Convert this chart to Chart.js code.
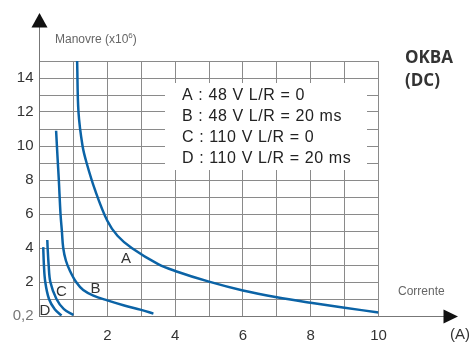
<!DOCTYPE html>
<html>
<head>
<meta charset="utf-8">
<script src="https://cdn.jsdelivr.net/npm/chart.js@4"></script>
<style>
  html, body { margin: 0; padding: 0; background: #fff; }
  #wrap { width: 473px; height: 344px; position: relative; }
</style>
</head>
<body>
<div id="wrap"><canvas id="chart"></canvas></div>
<script>
// current (A) and operations (x10^6)
const aCurrent = [1.11, 1.15, 1.27, 1.39, 1.64, 2.0, 2.3, 2.72, 3.5, 4.0, 5.0, 6.0, 7.0, 8.0, 9.0, 10.0];
const aOps     = [15, 12, 10, 9, 7.4, 5.6, 4.72, 4, 3.05, 2.65, 2.02, 1.5, 1.1, 0.78, 0.49, 0.2];

const bCurrent = [0.49, 0.53, 0.57, 0.62, 0.66, 0.70, 0.78, 0.9, 1.08, 1.29, 1.59, 2.0, 2.5, 3.0, 3.36];
const bOps     = [10.9, 9.4, 8, 6, 5, 4, 3.25, 2.65, 2, 1.53, 1.2, 0.92, 0.62, 0.36, 0.14];

const cCurrent = [0.23, 0.24, 0.27, 0.32, 0.5, 0.72, 1.0];
const cOps     = [4.47, 4, 3, 2, 1, 0.4, 0.06];

const dCurrent = [0.11, 0.13, 0.17, 0.28, 0.45, 0.65];
const dOps     = [4.05, 3, 2, 1, 0.4, 0.03];

const legendLines = ['A : 48 V L/R = 0', 'B : 48 V L/R = 20 ms', 'C : 110 V L/R = 0', 'D : 110 V L/R = 20 ms'];
const curveNames = ['A', 'B', 'C', 'D'];
// where each curve letter sits, in data units
const nameX = [2.55, 1.65, 0.65, 0.16];
const nameY = [3.35, 1.6, 1.4, 0.3];

const xTicks = [2, 4, 6, 8, 10];
const yTicks = [0, 2, 4, 6, 8, 10, 12, 14];

const blue = '#0b63a6';
const font = '"Liberation Sans", Arial, sans-serif';

function pts(xs, ys) {
  return xs.map((x, i) => ({ x: x, y: ys[i] }));
}

function curve(xs, ys) {
  return {
    data: pts(xs, ys),
    borderColor: blue,
    borderWidth: 2.5,
    pointRadius: 0,
    fill: false,
    tension: 0.35
  };
}

const decor = {
  id: 'decor',
  beforeDatasetsDraw(chart) {
    const ctx = chart.ctx;
    const x = chart.scales.x, y = chart.scales.y;
    // white box for legend text
    ctx.save();
    ctx.fillStyle = '#fff';
    ctx.fillRect(165, 83, 202, 87);
    ctx.fillStyle = '#222';
    ctx.font = '16px ' + font;
    ctx.letterSpacing = '0.6px';
    ctx.textBaseline = 'middle';
    legendLines.forEach((t, i) => ctx.fillText(t, 182, 96 + i * 21));
    ctx.letterSpacing = '0px';

    // curve letters
    ctx.font = '15px ' + font;
    ctx.fillStyle = '#333';
    curveNames.forEach((n, i) => {
      ctx.textAlign = 'center';
      ctx.fillText(n, x.getPixelForValue(nameX[i]), y.getPixelForValue(nameY[i]));
    });
    ctx.restore();
  },
  afterDraw(chart) {
    const ctx = chart.ctx;
    const a = chart.chartArea;
    ctx.save();
    ctx.strokeStyle = '#777';
    ctx.lineWidth = 1;
    ctx.beginPath();
    ctx.moveTo(39.5, a.top);
    ctx.lineTo(39.5, 26);
    ctx.moveTo(a.right, 316.5);
    ctx.lineTo(445, 316.5);
    ctx.stroke();

    // arrows
    ctx.fillStyle = '#111';
    ctx.beginPath();
    ctx.moveTo(39.5, 13);
    ctx.lineTo(47.5, 27.5);
    ctx.lineTo(31.5, 27.5);
    ctx.closePath();
    ctx.fill();
    ctx.beginPath();
    ctx.moveTo(458, 316.5);
    ctx.lineTo(443.5, 309.5);
    ctx.lineTo(443.5, 323.5);
    ctx.closePath();
    ctx.fill();

    // axis titles
    ctx.textBaseline = 'middle';
    ctx.fillStyle = '#666';
    ctx.font = '12px ' + font;
    const m = 'Manovre (x10';
    ctx.fillText(m, 55, 40);
    let w = ctx.measureText(m).width;
    ctx.font = '8px ' + font;
    ctx.fillText('6', 55 + w, 36);
    let w2 = ctx.measureText('6').width;
    ctx.font = '12px ' + font;
    ctx.fillText(')', 55 + w + w2, 40);
    ctx.fillText('Corrente', 398, 292);

    ctx.fillStyle = '#333';
    ctx.font = '15px ' + font;
    ctx.fillText('(A)', 450, 335);

    ctx.font = 'bold 17px "Open Sans", ' + font;
    ctx.fillText('OKBA', 405, 58);
    ctx.fillText('(DC)', 405, 81);
    ctx.restore();
  }
};

new Chart(document.getElementById('chart'), {
  type: 'line',
  data: {
    datasets: [
      curve(aCurrent, aOps),
      curve(bCurrent, bOps),
      curve(cCurrent, cOps),
      curve(dCurrent, dOps)
    ]
  },
  options: {
    responsive: true,
    maintainAspectRatio: false,
    animation: false,
    layout: { padding: { left: 0, top: 61, right: 94.5, bottom: 0 } },
    plugins: { legend: { display: false }, tooltip: { enabled: false } },
    scales: {
      x: {
        type: 'linear',
        min: 0,
        max: 10,
        afterFit(s) { s.height = 28; },
        grid: { color: '#8a8a8a', lineWidth: 1, drawTicks: false },
        border: { color: '#777' },
        ticks: {
          stepSize: 1,
          padding: 11,
          color: '#333',
          font: { family: font, size: 15 },
          maxRotation: 0,
          autoSkip: false,
          callback: v => xTicks.includes(v) ? String(v) : ''
        }
      },
      y: {
        min: 0,
        max: 15,
        afterFit(s) { s.width = 39.5; },
        grid: { color: '#8a8a8a', lineWidth: 1, drawTicks: false },
        border: { color: '#777' },
        ticks: {
          stepSize: 1,
          padding: 6,
          autoSkip: false,
          color: c => c.tick.value === 0 ? '#777' : '#333',
          font: { family: font, size: 15 },
          callback: v => yTicks.includes(v) ? (v === 0 ? '0,2' : String(v)) : ''
        }
      }
    }
  },
  plugins: [decor]
});
</script>
</body>
</html>
